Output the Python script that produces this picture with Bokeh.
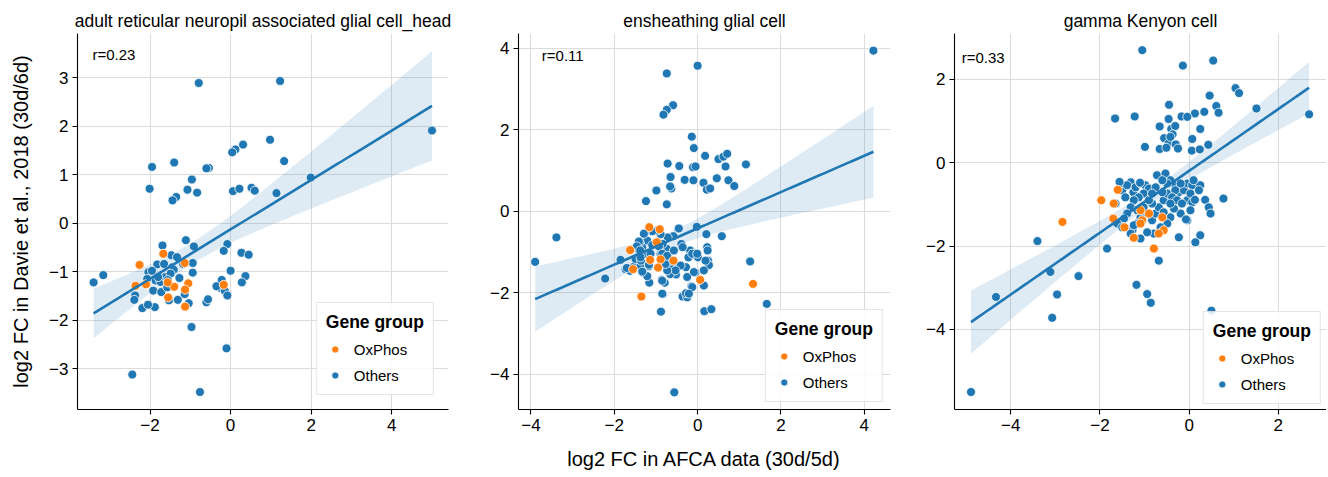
import numpy as np
from bokeh.plotting import figure
from bokeh.layouts import row
from bokeh.models import Legend, LegendItem, Label, CustomJSTickFormatter, Range1d
from bokeh.embed import file_html
from bokeh.resources import INLINE

# ---------------- data ----------------
titles = ["adult reticular neuropil associated glial cell_head",
          "ensheathing glial cell",
          "gamma Kenyon cell"]
r_texts = ["r=0.23", "r=0.11", "r=0.33"]
group_names = ["OxPhos", "Others"]
legend_title = "Gene group"
x_label = "log2 FC in AFCA data (30d/5d)"
y_label = "log2 FC in Davie et al., 2018 (30d/6d)"

p1_x_ticks = [-2, 0, 2, 4]
p1_y_ticks = [-3, -2, -1, 0, 1, 2, 3]
p2_x_ticks = [-4, -2, 0, 2, 4]
p2_y_ticks = [-4, -2, 0, 2, 4]
p3_x_ticks = [-4, -2, 0, 2]
p3_y_ticks = [-4, -2, 0, 2]

p1_others = [(-0.79, 2.89), (1.23, 2.93), (5.00, 1.91), (0.98, 1.72), (0.31, 1.62), (0.12, 1.52),
             (0.04, 1.46), (1.33, 1.28), (-1.95, 1.16), (-1.40, 1.25), (-0.54, 1.14), (-0.60, 1.13),
             (1.99, 0.94), (-0.96, 0.90), (-2.01, 0.71), (-1.07, 0.69), (-0.83, 0.63), (-1.35, 0.54),
             (-1.44, 0.47), (0.06, 0.66), (0.22, 0.71), (0.52, 0.73), (0.60, 0.67), (1.14, 0.62),
             (-1.11, -0.35), (-0.91, -0.48), (-0.08, -0.43), (-0.17, -0.57), (-1.69, -0.46),
             (0.27, -0.61), (0.45, -0.65), (0.37, -1.09), (0.28, -1.22), (0.00, -0.98),
             (-3.40, -1.22), (-3.16, -1.07), (-2.44, -3.12), (-0.76, -3.48), (-0.97, -2.14),
             (-0.10, -2.58), (-0.22, -1.17), (-0.26, -1.33), (-0.14, -1.40), (-0.08, -1.49),
             (-0.35, -1.30), (-0.60, -1.63), (-0.56, -1.57), (-2.37, -1.49), (-2.39, -1.58),
             (-2.19, -1.75), (-1.88, -1.73), (-2.05, -1.68), (-1.92, -1.39), (-1.72, -1.42),
             (-1.53, -1.59), (-1.31, -1.58), (-1.04, -1.65), (-1.14, -1.46), (-1.57, -1.32),
             (-1.27, -1.13), (-1.18, -0.84), (-0.94, -0.82), (-0.94, -1.02), (-1.47, -0.66),
             (-1.33, -0.70), (-1.82, -0.85), (-1.65, -0.84), (-1.45, -0.91), (-1.41, -0.96),
             (-2.04, -1.01), (-1.86, -1.18), (-1.74, -1.21), (-1.62, -1.11), (-1.49, -1.04),
             (-2.07, -1.15), (-1.95, -0.98), (-1.80, -1.11), (-1.56, -1.17)]
p1_oxphos = [(-1.67, -0.63), (-2.26, -0.86), (-2.36, -1.29), (-2.10, -1.26), (-1.40, -1.31),
             (-1.55, -1.53), (-1.14, -0.82), (-1.05, -1.24), (-1.13, -1.37), (-1.13, -1.72),
             (-0.17, -1.27), (-1.56, -1.22)]

p2_others = [(4.22, 3.94), (0.00, 3.57), (-0.74, 3.38), (-0.59, 2.60), (-0.74, 2.49), (-0.82, 2.37),
             (-0.14, 1.83), (-0.09, 1.55), (0.18, 1.36), (0.50, 1.28), (0.62, 1.34), (0.71, 1.41),
             (-0.72, 1.17), (-0.44, 1.11), (-0.11, 1.08), (-0.05, 1.10), (0.67, 1.10), (1.16, 1.15),
             (-0.65, 0.84), (-0.31, 0.77), (-0.10, 0.76), (0.14, 0.70), (0.22, 0.53), (0.30, 0.56),
             (0.46, 0.81), (0.74, 0.76), (0.88, 0.62), (-0.99, 0.51), (-0.63, 0.56), (-0.66, 0.61),
             (-1.24, 0.25), (-0.74, 0.17),
             (-3.39, -0.64), (-3.90, -1.24), (-2.22, -1.65), (-1.85, -1.19), (-0.02, -0.38),
             (0.21, -0.56), (0.58, -0.61), (1.26, -1.23), (1.66, -2.27), (-0.56, -4.44),
             (-0.88, -2.46), (0.16, -2.45), (0.33, -2.40), (-0.83, -2.03), (-0.36, -2.09),
             (-0.25, -2.11), (-0.28, -2.01), (0.15, -1.82), (-0.15, -1.84), (-0.86, -1.68),
             (-0.79, -1.75), (-1.16, -1.75), (0.23, -0.88), (0.24, -0.96), (0.25, -1.21),
             (0.27, -1.32), (-0.18, -0.96), (-0.07, -1.03), (0.01, -1.13), (-0.22, -1.13),
             (-0.05, -1.50), (-0.25, -1.61), (-0.28, -1.37), (-0.49, -1.37), (-0.52, -1.55),
             (-0.66, -1.37), (-0.66, -1.54), (-0.39, -0.80), (-0.36, -0.88), (-0.47, -0.43),
             (-0.58, -0.61), (-0.74, -0.92), (-0.72, -0.64), (-0.89, -0.56), (-0.89, -1.05),
             (-0.84, -0.80), (-0.97, -0.47), (-1.09, -0.49), (-1.27, -0.53), (-1.21, -0.72),
             (-1.33, -0.88), (-1.39, -0.77), (-1.47, -0.91), (-1.64, -1.41), (-1.53, -1.36),
             (-1.49, -1.17), (-1.37, -1.35), (-1.31, -1.50), (-1.21, -1.59), (-1.17, -1.35),
             (-1.36, -1.21), (-1.21, -1.05), (-1.03, -0.80), (-1.73, -1.42), (-1.62, -1.46),
             (-1.29, -0.55), (-0.45, -0.42), (-1.41, -0.74), (-1.46, -0.86), (-1.09, -0.83),
             (-0.93, -0.86), (-1.70, -1.39), (-1.33, -1.48), (-1.17, -1.31), (-1.38, -0.96),
             (-1.37, -1.13), (-1.13, -1.04), (-0.85, -1.04), (-0.65, -1.21), (-0.41, -1.33),
             (-0.13, -1.04), (-0.01, -1.04), (0.19, -1.21), (0.15, -1.45), (-0.09, -1.49),
             (-0.13, -1.86), (-0.21, -2.02), (-0.53, -1.45), (-0.73, -1.45), (-0.77, -1.29),
             (-0.85, -1.70), (-0.85, -2.02), (-0.73, -1.09), (-0.57, -0.96)]
p2_oxphos = [(-1.16, -0.39), (-0.91, -0.44), (-1.62, -0.95), (-0.98, -0.76), (-1.14, -1.19),
             (-0.89, -1.18), (-0.95, -1.38), (-1.55, -1.42), (-1.35, -2.09), (0.06, -1.68),
             (1.33, -1.78), (-0.58, -1.21)]

p3_others = [(2.69, 1.16), (-1.05, 2.70), (-0.14, 2.33), (0.54, 2.45), (1.04, 1.79), (1.12, 1.67),
             (0.46, 1.61), (1.51, 1.30), (0.61, 1.36), (0.66, 1.20), (0.34, 1.22), (0.13, 1.18),
             (-0.17, 1.11), (-0.04, 1.10), (-1.66, 1.06), (-1.22, 1.11), (-0.45, 1.39), (-0.46, 1.05),
             (-0.66, 0.87), (-0.40, 0.81), (-0.31, 0.88), (-0.37, 0.68), (-0.56, 0.59), (-0.46, 0.46),
             (-0.30, 0.44), (-0.25, 0.34), (-0.66, 0.33), (-0.51, 0.36), (0.25, 0.81), (0.07, 0.57),
             (0.06, 0.29), (0.24, 0.32), (0.43, 0.43), (-0.99, 0.38), (-0.42, 0.62),
             (-4.89, -5.50), (-4.33, -3.22), (-3.07, -3.72), (-2.96, -3.16), (-3.11, -2.62),
             (-2.48, -2.72), (-3.40, -1.88), (-1.18, -2.93), (-0.94, -3.15), (-0.86, -3.36),
             (0.50, -3.55),
             (-1.65, -0.98), (-1.50, -0.66), (-1.43, -0.83), (-1.54, -0.50), (-1.31, -0.47),
             (-1.39, -0.54), (-1.25, -0.71), (-1.20, -0.59), (-1.09, -0.50), (-0.98, -0.54),
             (-0.90, -0.62), (-1.02, -0.74), (-1.13, -0.83), (-1.24, -0.90), (-1.31, -1.07),
             (-1.39, -1.22), (-1.46, -1.34), (-1.61, -1.46), (-1.50, -1.55), (-1.27, -1.62),
             (-1.16, -1.46), (-1.09, -1.31), (-0.94, -1.22), (-0.83, -1.38), (-0.75, -1.22),
             (-0.68, -1.07), (-0.57, -0.90), (-0.49, -0.74), (-0.60, -0.71), (-0.72, -0.30),
             (-0.53, -0.26), (-0.42, -0.42), (-0.31, -0.54), (-0.23, -0.71), (-0.12, -0.66),
             (-0.04, -0.50), (0.07, -0.54), (0.25, -0.54), (0.22, -0.66), (0.10, -0.42),
             (-0.04, -0.90), (0.07, -0.95), (0.36, -0.89), (0.44, -1.07), (0.48, -1.22),
             (0.03, -1.14), (-0.04, -1.38), (-0.19, -1.22), (-0.34, -1.10), (-0.42, -1.31),
             (-0.49, -1.46), (-0.64, -1.55), (-0.79, -1.70), (-0.94, -1.67), (-1.09, -1.82),
             (-1.24, -1.50), (-1.31, -1.70), (-0.23, -1.79), (0.25, -1.74), (0.14, -1.91),
             (0.77, -0.86), (-1.84, -2.06), (-0.68, -2.35), (-0.31, -0.66), (-0.38, -0.83),
             (-0.83, -0.98), (-0.90, -0.90), (-1.02, -1.07), (-1.16, -1.14), (-0.49, -0.50),
             (-0.60, -0.42), (-0.27, -0.90), (-0.16, -0.98), (0.03, -0.74), (-0.19, -0.50),
             (-0.75, -0.59), (-0.83, -0.74), (-0.42, -0.98), (-0.57, -1.19), (-0.07, -1.36),
             (0.13, -0.89), (-1.56, -0.46), (-1.10, -0.48)]
p3_oxphos = [(-1.97, -0.90), (-1.69, -0.98), (-1.60, -0.65), (-1.70, -1.34), (-1.45, -1.55),
             (-1.24, -1.80), (-1.09, -1.14), (-1.05, -1.38), (-0.90, -1.22), (-0.60, -1.31),
             (-0.57, -1.62), (-0.68, -1.70), (-0.79, -2.06), (-1.09, -1.46), (-2.84, -1.42)]

# ---------------- styling ----------------
FONT = "Liberation Sans"
BLUE = "#1f77b4"
ORANGE = "#ff7f0e"

panels = [
    dict(others=p1_others, ox=p1_oxphos, xt=p1_x_ticks, yt=p1_y_ticks,
         xr=(-3.80, 5.41), yr=(-3.84, 3.91), r_at=(-3.43, 3.48),
         width=480, bl=77, br=32, leg_margin=14, ylab=True, xlab=False),
    dict(others=p2_others, ox=p2_oxphos, xt=p2_x_ticks, yt=p2_y_ticks,
         xr=(-4.30, 4.63), yr=(-4.86, 4.36), r_at=(-3.74, 3.82),
         width=420, bl=38, br=10, leg_margin=7, ylab=False, xlab=True),
    dict(others=p3_others, ox=p3_oxphos, xt=p3_x_ticks, yt=p3_y_ticks,
         xr=(-5.26, 3.08), yr=(-5.92, 3.10), r_at=(-5.10, 2.53),
         width=426, bl=54, br=0, leg_margin=5, ylab=False, xlab=False),
]

minus_fmt = """
var s = Math.abs(tick).toFixed(0);
return tick < 0 ? '\u2212' + s : s;
"""


def fit_band(x, y, n=120):
    x = np.asarray(x, float)
    y = np.asarray(y, float)
    b1, b0 = np.polyfit(x, y, 1)
    xs = np.linspace(x.min(), x.max(), n)
    yh = b0 + b1 * xs
    resid = y - (b0 + b1 * x)
    s = np.sqrt(np.sum(resid ** 2) / (len(x) - 2))
    sxx = np.sum((x - x.mean()) ** 2)
    se = s * np.sqrt(1.0 / len(x) + (xs - x.mean()) ** 2 / sxx)
    t = 1.98
    return xs, yh, yh - t * se, yh + t * se


figs = []
for i, cfg in enumerate(panels):
    p = figure(width=cfg["width"], height=476, output_backend="svg", toolbar_location=None,
               x_range=Range1d(*cfg["xr"]), y_range=Range1d(*cfg["yr"]),
               min_border_left=cfg["bl"], min_border_right=cfg["br"],
               min_border_top=33, min_border_bottom=67)
    p.outline_line_color = None
    p.background_fill_color = "white"
    p.border_fill_color = "white"

    p.title.text = titles[i]
    p.title.align = "center"
    p.title.text_font = FONT
    p.title.text_font_size = "17.5px"
    p.title.text_font_style = "normal"
    p.title.text_color = "black"
    p.title.standoff = 5

    for ax in (p.xaxis[0], p.yaxis[0]):
        ax.axis_line_color = "black"
        ax.axis_line_width = 1.1
        ax.major_tick_line_color = "black"
        ax.major_tick_line_width = 1.1
        ax.major_tick_out = 5
        ax.major_tick_in = 0
        ax.minor_tick_line_color = None
        ax.major_label_text_font = FONT
        ax.major_label_text_font_size = "17px"
        ax.major_label_text_color = "black"
        ax.major_label_standoff = 4
        ax.formatter = CustomJSTickFormatter(code=minus_fmt)
        ax.axis_label_text_font = FONT
        ax.axis_label_text_font_size = "20px"
        ax.axis_label_text_font_style = "normal"
        ax.axis_label_text_color = "black"
    p.xaxis[0].ticker = cfg["xt"]
    p.yaxis[0].ticker = cfg["yt"]
    if cfg["ylab"]:
        p.yaxis[0].axis_label = y_label
        p.yaxis[0].axis_label_standoff = 14
    if cfg["xlab"]:
        p.xaxis[0].axis_label = x_label
        p.xaxis[0].axis_label_standoff = 14

    p.xgrid.ticker = cfg["xt"]
    p.ygrid.ticker = cfg["yt"]
    for g in (p.xgrid[0], p.ygrid[0]):
        g.grid_line_color = "#dcdcdc"
        g.grid_line_width = 1.1

    ox_x, ox_y = zip(*cfg["ox"])
    ot_x, ot_y = zip(*cfg["others"])
    all_x = list(ox_x) + list(ot_x)
    all_y = list(ox_y) + list(ot_y)

    xs, yh, lo, hi = fit_band(all_x, all_y)
    p.varea(x=xs, y1=lo, y2=hi, fill_color=BLUE, fill_alpha=0.15)

    r_ot = p.scatter(list(ot_x), list(ot_y), marker="circle", size=9,
                     fill_color=BLUE, line_color="white", line_width=0.8)
    r_ox = p.scatter(list(ox_x), list(ox_y), marker="circle", size=9,
                     fill_color=ORANGE, line_color="white", line_width=0.8)

    p.line(xs, yh, line_color=BLUE, line_width=2.6)

    p.add_layout(Label(x=cfg["r_at"][0], y=cfg["r_at"][1], text=r_texts[i],
                       text_font=FONT, text_font_size="15px", text_color="black",
                       text_baseline="middle", text_align="left"))

    leg = Legend(items=[LegendItem(label=group_names[0], renderers=[r_ox]),
                        LegendItem(label=group_names[1], renderers=[r_ot])],
                 location="bottom_right", title=legend_title)
    leg.margin = cfg["leg_margin"]
    leg.title_text_font = FONT
    leg.title_text_font_size = "17.5px"
    leg.title_text_font_style = "bold"
    leg.title_text_color = "black"
    leg.title_standoff = 6
    leg.label_text_font = FONT
    leg.label_text_font_size = "15px"
    leg.label_text_color = "black"
    leg.label_standoff = 10
    leg.glyph_width = 18
    leg.glyph_height = 20
    leg.spacing = 6
    leg.padding = 9
    leg.border_line_color = "#cccccc"
    leg.border_line_width = 1
    leg.background_fill_alpha = 0.85
    p.add_layout(leg, "center")

    figs.append(p)

layout = row(*figs)
open("out.html", "w").write(file_html(layout, INLINE))
